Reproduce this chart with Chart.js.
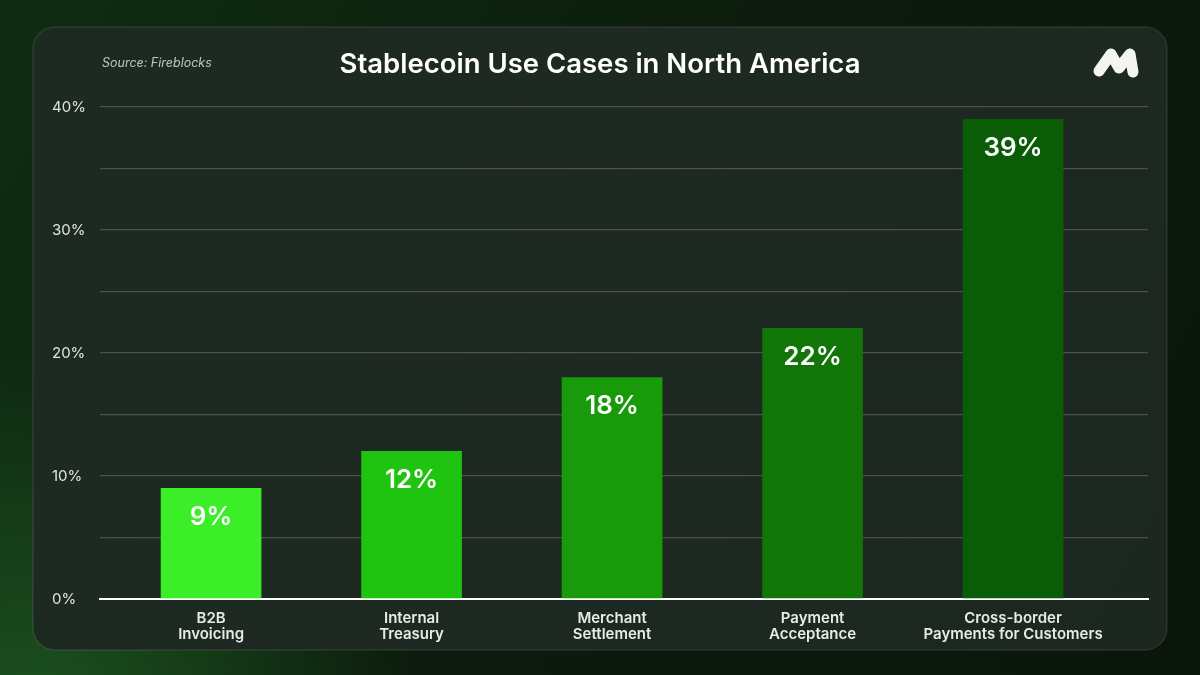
<!DOCTYPE html>
<html>
<head>
<meta charset="utf-8">
<script src="https://cdn.jsdelivr.net/npm/chart.js@4.4.1/dist/chart.umd.min.js"></script>
<style>
  html, body { margin: 0; padding: 0; background: #0d1f0f; }
  #wrap { width: 1200px; height: 675px; }
</style>
</head>
<body>
<div id="wrap"><canvas id="myChart" width="1200" height="675"></canvas></div>
<script>
(() => {
    'use strict';

    // Data
    const categories = [
        ['B2B', 'Invoicing'],
        ['Internal', 'Treasury'],
        ['Merchant', 'Settlement'],
        ['Payment', 'Acceptance'],
        ['Cross-border', 'Payments for Customers']
    ];
    const shares = [9, 12, 18, 22, 39];
    const yTicks = [0, 10, 20, 30, 40];
    const barColors = ['#3bee28', '#1ec40f', '#199a0b', '#127507', '#0b5c06'];

    const FONT = 'Inter, "Noto Sans", sans-serif';

    // Page background, panel, source note and logo
    const backdrop = {
        id: 'backdrop',
        beforeDraw(chart) {
            const c = chart.ctx;
            const w = chart.width, h = chart.height;
            c.save();
            const bg = c.createLinearGradient(0, 0, w, h);
            bg.addColorStop(0, '#0f2d12');
            bg.addColorStop(0.5, '#0c1b0d');
            bg.addColorStop(1, '#0b160b');
            c.fillStyle = bg;
            c.fillRect(0, 0, w, h);
            const glow = c.createRadialGradient(40, 720, 0, 40, 720, 380);
            glow.addColorStop(0, 'rgba(40,120,45,0.55)');
            glow.addColorStop(1, 'rgba(40,120,45,0)');
            c.fillStyle = glow;
            c.fillRect(0, 0, w, h);

            c.beginPath();
            c.roundRect(33, 27, 1134, 623, 22);
            const panel = c.createLinearGradient(33, 27, 1167, 650);
            panel.addColorStop(0, '#1d2a21');
            panel.addColorStop(1, '#1c2720');
            c.fillStyle = panel;
            c.fill();
            c.strokeStyle = 'rgba(255,255,255,0.09)';
            c.lineWidth = 1.5;
            c.stroke();

            c.fillStyle = 'rgba(255,255,255,0.72)';
            c.font = 'italic 12.5px ' + FONT;
            c.textBaseline = 'middle';
            c.textAlign = 'left';
            c.fillText('Source: Fireblocks', 102, 63);

            // logo
            c.strokeStyle = '#f4f4f0';
            c.lineWidth = 11;
            c.lineCap = 'round';
            c.lineJoin = 'round';
            c.beginPath();
            c.moveTo(1099, 71);
            c.lineTo(1111, 54);
            c.lineTo(1119, 68);
            c.lineTo(1130, 54);
            c.lineTo(1133, 72);
            c.stroke();
            c.restore();
        }
    };

    // Value labels inside the top of each bar
    const barLabels = {
        id: 'barLabels',
        afterDatasetsDraw(chart) {
            const c = chart.ctx;
            const meta = chart.getDatasetMeta(0);
            c.save();
            c.fillStyle = '#ffffff';
            c.font = '600 26px ' + FONT;
            c.textAlign = 'center';
            c.textBaseline = 'middle';
            meta.data.forEach((bar, i) => {
                c.fillText(shares[i] + '%', bar.x, bar.y + 29);
            });
            c.restore();
        }
    };

    const ctx = document.getElementById('myChart').getContext('2d');
    // eslint-disable-next-line no-unused-vars
    const myChart = new Chart(ctx, {
        type: 'bar',
        data: {
            datasets: [{
                data: shares.map((v, i) => ({ x: i, y: v })),
                backgroundColor: barColors,
                borderWidth: 0,
                barThickness: 100
            }]
        },
        options: {
            responsive: false,
            animation: false,
            layout: {
                padding: { left: 52, right: 52, top: 0, bottom: 0 }
            },
            plugins: {
                legend: { display: false },
                tooltip: { enabled: false },
                title: {
                    display: true,
                    text: 'Stablecoin Use Cases in North America',
                    color: '#ffffff',
                    font: { family: FONT, size: 27.5, weight: '600', lineHeight: 1.2 },
                    padding: { top: 48, bottom: 26 }
                }
            },
            scales: {
                x: {
                    type: 'linear',
                    offset: false,
                    min: -0.554,
                    max: 4.673,
                    afterBuildTicks(scale) {
                        scale.ticks = categories.map((c, i) => ({ value: i }));
                    },
                    afterFit(scale) {
                        scale.height = 76;
                    },
                    grid: { display: false },
                    border: { display: true, color: '#ffffff', width: 2 },
                    ticks: {
                        autoSkip: false,
                        maxRotation: 0,
                        padding: 3,
                        color: 'rgba(255,255,255,0.9)',
                        font: { family: FONT, size: 15, weight: '600', lineHeight: 1.1 },
                        callback: (value) => categories[value] || ''
                    }
                },
                y: {
                    min: 0,
                    max: 40,
                    afterBuildTicks(scale) {
                        const list = [];
                        for (let v = 0; v <= 40; v += 5) list.push({ value: v });
                        scale.ticks = list;
                    },
                    afterFit(scale) {
                        scale.width = 48;
                    },
                    border: { display: false },
                    grid: {
                        color: (c) => c.tick && c.tick.value === 0 ? '#ffffff' : 'rgba(255,255,255,0.2)',
                        lineWidth: (c) => c.tick && c.tick.value === 0 ? 2 : 1.2,
                        drawTicks: false
                    },
                    ticks: {
                        crossAlign: 'far',
                        padding: 0,
                        color: 'rgba(255,255,255,0.88)',
                        font: { family: FONT, size: 15, weight: '400' },
                        callback: (value) => yTicks.includes(value) ? value + '%' : ''
                    }
                }
            }
        },
        plugins: [backdrop, barLabels]
    });
})();
</script>
</body>
</html>
